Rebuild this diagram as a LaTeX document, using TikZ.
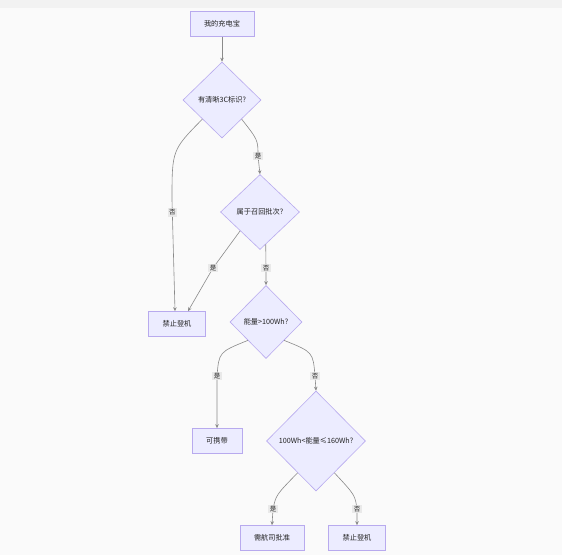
\documentclass[tikz,border=0pt]{standalone}
\usepackage{fontspec}
\setmainfont{Noto Sans CJK SC}
\usetikzlibrary{shapes.geometric, arrows.meta, positioning}
\definecolor{bgcol}{HTML}{FAFAFA}
\definecolor{topcol}{HTML}{F2F2F2}
\definecolor{nodefill}{HTML}{ECECFF}
\definecolor{nodeline}{HTML}{B8AAEE}
\definecolor{edgeline}{HTML}{8A8A8A}
\definecolor{lblfill}{HTML}{E8E8E8}
\definecolor{txt}{HTML}{222222}
\begin{document}
\begin{tikzpicture}[
        x=1pt, y=-1pt,
        font=\fontsize{7.2}{8}\selectfont, text=txt,
        box/.style={draw=nodeline, fill=nodefill, line width=0.6pt, minimum height=25pt, inner xsep=14pt, inner ysep=0pt},
        decision/.style={draw=nodeline, fill=nodefill, line width=0.6pt, diamond, inner sep=0pt},
        arr/.style={-{Stealth[length=4pt,width=3.5pt]}, draw=edgeline, line width=0.6pt},
        lbl/.style={fill=lblfill, fill opacity=0.9, text opacity=1, inner sep=1.5pt, font=\fontsize{6.5}{7}\selectfont}
        ]
        \fill[bgcol] (0,0) rectangle (562,555);
        \fill[topcol] (0,0) rectangle (562,8);
        \useasboundingbox (0,0) rectangle (562,555);
        \node[box] (A) at (222,24) {我的充电宝};
        \node[decision, minimum width=78pt, minimum height=76pt] (B) at (222,100) {\makebox[0pt]{有清晰3C标识?}};
        \node[decision, minimum width=79pt, minimum height=75pt] (C) at (260,212) {\makebox[0pt]{属于召回批次?}};
        \node[box] (D) at (177,324) {禁止登机};
        \node[decision, minimum width=72pt, minimum height=73pt] (E) at (266,322) {\makebox[0pt]{能量>100Wh?}};
        \node[box] (F) at (217,441) {可携带};
        \node[decision, minimum width=99pt, minimum height=100pt] (G) at (316,441) {\makebox[0pt]{100Wh<能量≤160Wh?}};
        \node[box] (H) at (272,538) {需航司批准};
        \node[box] (I) at (357,538) {禁止登机};
        \draw[arr] (A) -- (B);
        \draw[arr] (B.south west) .. controls (172,150) .. (172,200) -- node[lbl, pos=0.11]{否} ([xshift=-2pt]D.north);
        \draw[arr] (B.south east) .. controls (258,140) .. (258,156) node[lbl]{是} -- (C.north);
        \draw[arr] (C.south west) -- (213,268) node[lbl]{是} -- ([xshift=11pt]D.north);
        \draw[arr] (C.-80) -- (266,268) node[lbl]{否} -- (E.north);
        \draw[arr] (E.south west) .. controls (219,352) .. (217,376) node[lbl]{是} -- (F.north);
        \draw[arr] (E.south east) .. controls (313,352) .. (315,376) node[lbl]{否} -- (G.north);
        \draw[arr] (G.-120) .. controls (276,495) .. (273,509) node[lbl]{是} -- (H.north);
        \draw[arr] (G.-60) .. controls (355,495) .. (357,509) node[lbl]{否} -- (I.north);
    \end{tikzpicture}
\end{document}
